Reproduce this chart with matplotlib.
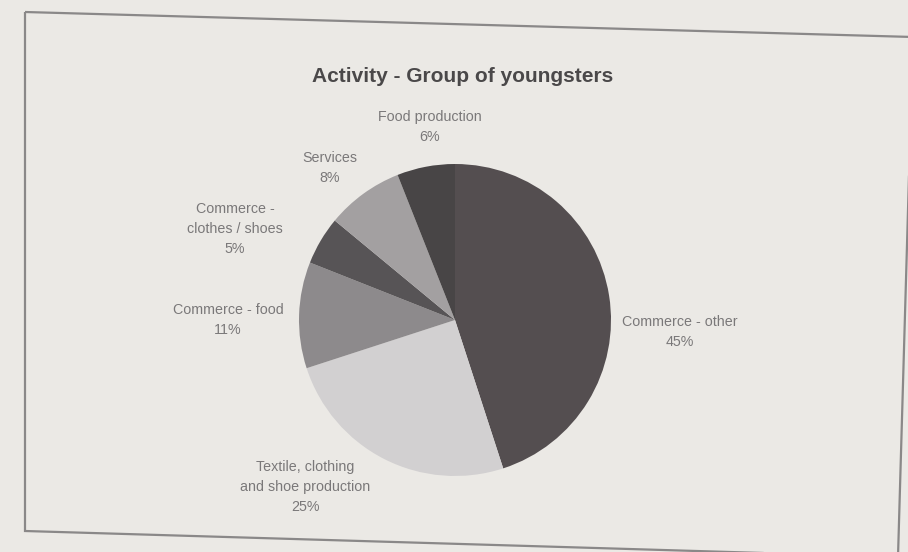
import matplotlib.pyplot as plt
from matplotlib.patches import Polygon

categories = ["Commerce - other", "Textile, clothing\nand shoe production",
              "Commerce - food", "Commerce -\nclothes / shoes",
              "Services", "Food production"]
shares = [45, 25, 11, 5, 8, 6]
title = "Activity - Group of youngsters"

colors = ["#544e50", "#d2d0d1", "#8d8a8c", "#575456", "#a3a0a1", "#484546"]
# label anchor points in pixel space (x, y from top)
label_pos = [(680, 332), (305, 487), (228, 320), (235, 229), (330, 168), (430, 127)]

W, H = 908, 552
bg = "#ebe9e5"
fig = plt.figure(figsize=(W / 100, H / 100), dpi=100)
fig.patch.set_facecolor(bg)
ax = fig.add_axes((0, 0, 1, 1))

cx, cy, r = 455, H - 320, 156
ax.pie(shares, colors=colors, startangle=90, counterclock=False,
       center=(cx, cy), radius=r, frame=True,
       wedgeprops=dict(linewidth=0))

ax.set_xlim(0, W)
ax.set_ylim(0, H)
ax.set_aspect("equal")
ax.axis("off")

# slightly skewed frame around the chart
frame = Polygon([(25, H - 12), (913, H - 37), (898, H - 557), (25, H - 531)],
                closed=True, fill=False, edgecolor="#8a8888", linewidth=1.6)
ax.add_patch(frame)

font = ["Liberation Sans", "DejaVu Sans"]
ax.text(463, H - 76, title, ha="center", va="center", fontsize=15,
        fontweight="bold", color="#4a4849", family=font)

for name, val, (x, y) in zip(categories, shares, label_pos):
    ax.text(x, H - y, f"{name}\n{val}%", ha="center", va="center",
            fontsize=10.3, color="#7a7879", family=font, linespacing=1.55)

fig.savefig("out.png", dpi=100, facecolor=fig.get_facecolor())
